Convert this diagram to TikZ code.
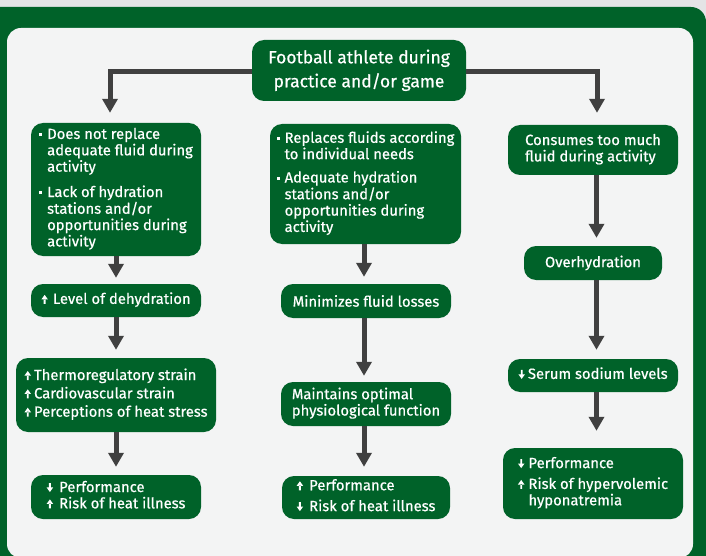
\documentclass[tikz,border=0pt]{standalone}
\usepackage{fontspec}
\setmainfont{Fira Sans}[FakeBold=0.6]
\usetikzlibrary{arrows.meta}
\definecolor{fgreen}{RGB}{0,98,41}
\definecolor{panel}{RGB}{243,244,244}
\definecolor{topgrey}{RGB}{228,228,230}
\definecolor{arrgrey}{RGB}{64,64,64}
\newcommand\myup{\tikz[baseline=0pt,x=1pt,y=1pt,sharp corners]{\fill[white] (-0.9,0) rectangle (0.9,5) (-3.3,4.4) -- (3.3,4.4) -- (0,9) -- cycle;}}
\newcommand\mydn{\tikz[baseline=0pt,x=1pt,y=1pt,sharp corners]{\fill[white] (-0.9,4) rectangle (0.9,9) (-3.3,4.6) -- (3.3,4.6) -- (0,0) -- cycle;}}
\newcommand\mybul{\rule[3pt]{3pt}{3pt}}
\begin{document}
\begin{tikzpicture}[x=1pt,y=-1pt,
  box/.style={fill=fgreen, rounded corners=12pt, text=white, inner sep=0pt,
    font=\fontsize{14.8}{16}\selectfont},
  conn/.style={draw=arrgrey, line width=5pt, -{Triangle[width=15pt,length=14pt]}}]
\useasboundingbox (0,0) rectangle (706,556);
\begin{scope}
\clip (0,0) rectangle (706,556);
\fill[topgrey] (0,0) rectangle (706,556);
\fill[fgreen, rounded corners=15pt] (-30,7) rectangle (706,590);
\fill[panel, rounded corners=14pt] (7,28) rectangle (693,558);
\end{scope}

% head
\node[box, minimum width=214pt, minimum height=61pt, font=\fontsize{17.5}{24}\selectfont] (head) at (359,70.5)
  {\begin{tabular}{@{}c@{}}Football athlete during\\practice and/or game\end{tabular}};

% left column
\node[box, minimum width=170pt, minimum height=133pt] (b1) at (116,189.5)
  {\begin{tabular}{@{}l@{\hspace{5pt}}l@{}}\mybul & Does not replace\\ & adequate fluid during\\ & activity\\[9pt]
   \mybul & Lack of hydration\\ & stations and/or\\ & opportunities during\\ & activity\end{tabular}};
\node[box, minimum width=170pt, minimum height=33pt] (b2) at (116,300.5)
  {\begin{tabular}{@{}l@{\hspace{5pt}}l@{}}\myup & Level of dehydration\end{tabular}};
\node[box, minimum width=200pt, minimum height=74pt] (b3) at (116,395)
  {\begin{tabular}{@{}l@{\hspace{3pt}}l@{}}\myup & Thermoregulatory strain\\[2pt]
   \myup & Cardiovascular strain\\[2pt] \myup & Perceptions of heat stress\end{tabular}};
\node[box, minimum width=170pt, minimum height=44pt] (b4) at (116,497)
  {\begin{tabular}{@{}l@{\hspace{6pt}}l@{}}\mydn & Performance\\ \myup & Risk of heat illness\end{tabular}};

% middle column
\node[box, minimum width=191pt, minimum height=120pt] (m1) at (365.5,184)
  {\begin{tabular}{@{}l@{\hspace{5pt}}l@{}}\mybul & Replaces fluids according\\ & to individual needs\\[7pt]
   \mybul & Adequate hydration\\ & stations and/or\\ & opportunities during\\ & activity\end{tabular}};
\node[box, minimum width=170pt, minimum height=34pt] (m2) at (366,301) {Minimizes fluid losses};
\node[box, minimum width=170pt, minimum height=44pt] (m3) at (366,404)
  {\begin{tabular}{@{}l@{}}Maintains optimal\\ physiological function\end{tabular}};
\node[box, minimum width=168pt, minimum height=43pt] (m4) at (366,497.5)
  {\begin{tabular}{@{}l@{\hspace{6pt}}l@{}}\myup & Performance\\[4.5pt] \mydn & Risk of heat illness\end{tabular}};

% right column
\node[box, minimum width=170pt, minimum height=50pt] (r1) at (593,150)
  {\begin{tabular}{@{}l@{}}Consumes too much\\ fluid during activity\end{tabular}};
\node[box, minimum width=138pt, minimum height=34pt] (r2) at (593,263) {Overhydration};
\node[box, minimum width=170pt, minimum height=33pt] (r3) at (593,375.5)
  {\begin{tabular}{@{}l@{\hspace{3pt}}l@{}}\mydn & Serum sodium levels\end{tabular}};
\node[box, minimum width=180pt, minimum height=71pt] (r4) at (593,483.5)
  {\begin{tabular}{@{}l@{\hspace{4pt}}l@{}}\mydn & Performance\\[4.5pt] \myup & Risk of hypervolemic\\ & hyponatremia\end{tabular}};

% connectors
\draw[conn, shorten >=10pt] ([yshift=-1.5pt]head.west) -| ([xshift=-6pt]b1.north);
\draw[conn, shorten >=12pt] ([yshift=-1.5pt]head.east) -| ([xshift=4pt]r1.north);

\draw[conn, shorten >=6pt] (b1.south) -- (b1.south |- b2.north);
\draw[conn, shorten >=8pt] (b2.south) -- (b2.south |- b3.north);
\draw[conn, shorten >=8pt] (b3.south) -- (b3.south |- b4.north);

\draw[conn, shorten >=7pt] ([xshift=-1.5pt]m1.south) -- ([xshift=-1.5pt]m1.south |- m2.north);
\draw[conn, shorten >=6pt] ([xshift=-2pt]m2.south) -- ([xshift=-2pt]m2.south |- m3.north);
\draw[conn, shorten >=9pt] ([xshift=-2pt]m3.south) -- ([xshift=-2pt]m3.south |- m4.north);

\draw[conn, shorten >=8pt] ([xshift=3.5pt]r1.south) -- ([xshift=3.5pt]r1.south |- r2.north);
\draw[conn, shorten >=9pt] ([xshift=3.5pt]r2.south) -- ([xshift=3.5pt]r2.south |- r3.north);
\draw[conn, shorten >=17pt] ([xshift=3.5pt]r3.south) -- ([xshift=3.5pt]r3.south |- r4.north);
\end{tikzpicture}
\end{document}
